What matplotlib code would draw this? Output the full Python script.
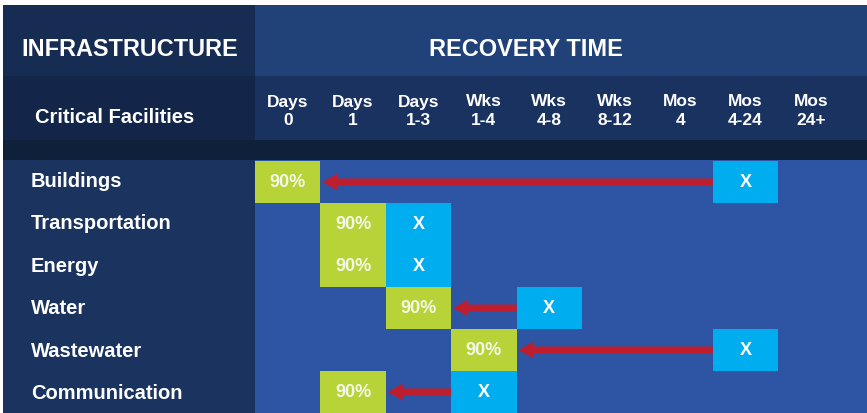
import matplotlib
matplotlib.use("Agg")
import matplotlib.pyplot as plt
from matplotlib.patches import Rectangle
from matplotlib import transforms

# ---------------- data ----------------
categories = ["Buildings", "Transportation", "Energy", "Water", "Wastewater", "Communication"]
time_units = ["Days", "Days", "Days", "Wks", "Wks", "Wks", "Mos", "Mos", "Mos"]
time_ranges = ["0", "1", "1-3", "1-4", "4-8", "8-12", "4", "4-24", "24+"]
target_col = [0, 1, 1, 2, 3, 1]    # column of the 90% recovery target
current_col = [7, 2, 2, 4, 7, 3]   # column of the current expected recovery (X)
target_label = "90%"
current_label = "X"

# ---------------- style ----------------
W, H = 867, 413
FONT = "Liberation Sans"
C_H1_LEFT = "#162c52"
C_H1_RIGHT = "#214278"
C_H2_LEFT = "#13264a"
C_H2_RIGHT = "#1a3260"
C_SEP = "#0f203b"
C_BODY_LEFT = "#1a335f"
C_GRID = "#2e55a4"
C_GREEN = "#b8d337"
C_CYAN = "#00aeef"
C_RED = "#be1e2d"
C_TEXT = "#ffffff"

fig = plt.figure(figsize=(W / 100, H / 100), dpi=100)
fig.patch.set_facecolor("white")


def fx(px):
    return px / W


def fy(py):
    return 1 - py / H


def fig_rect(x0, y0, x1, y1, color):
    r = Rectangle((fx(x0), fy(y1)), fx(x1) - fx(x0), fy(y0) - fy(y1),
                  transform=fig.transFigure, facecolor=color, edgecolor="none",
                  zorder=-5)
    fig.add_artist(r)


# background panels
LEFT, SPLIT = 3, 255
fig_rect(LEFT, 5, SPLIT, 76, C_H1_LEFT)
fig_rect(SPLIT, 5, W, 76, C_H1_RIGHT)
fig_rect(LEFT, 76, SPLIT, 140, C_H2_LEFT)
fig_rect(SPLIT, 76, W, 140, C_H2_RIGHT)
fig_rect(LEFT, 140, W, 160, C_SEP)
fig_rect(LEFT, 160, SPLIT, H, C_BODY_LEFT)
fig_rect(SPLIT, 160, W, H, C_GRID)

# grid axes
COLW = 65.4
TOP = 161
ax = fig.add_axes([fx(SPLIT), 0, fx(W) - fx(SPLIT), fy(TOP)])
ax.set_zorder(2)
ax.patch.set_alpha(0)
ax.set_xlim(0, (W - SPLIT) / COLW)
ax.set_ylim(len(categories), 0)
ax.axis("off")

rowh_px = (H - TOP) / len(categories)

for i, cat in enumerate(categories):
    t, c = target_col[i], current_col[i]
    ax.add_patch(Rectangle((t, i), 1, 1, facecolor=C_GREEN, edgecolor="none"))
    ax.add_patch(Rectangle((c, i), 1, 1, facecolor=C_CYAN, edgecolor="none"))
    ybase = i + 0.5 + 5 / rowh_px
    ax.text(t + 0.5, ybase, target_label, ha="center", va="baseline",
            color="#f4f7e8", fontsize=13, fontweight="bold", family=FONT)
    ax.text(c + 0.5, ybase, current_label, ha="center", va="baseline",
            color=C_TEXT, fontsize=13, fontweight="bold", family=FONT)
    if c - t > 1:
        start = c
        end = t + 1 + 2 / COLW
        ax.arrow(start, i + 0.5, end - start, 0,
                 width=7 / rowh_px, head_width=17 / rowh_px,
                 head_length=15 / COLW, length_includes_head=True,
                 facecolor=C_RED, edgecolor="none", zorder=3)

# column labels
col_tr = transforms.blended_transform_factory(ax.transData, fig.transFigure)
for j, (u, r) in enumerate(zip(time_units, time_ranges)):
    ax.text(j + 0.5, fy(106.5), u, transform=col_tr, ha="center", va="baseline",
            color=C_TEXT, fontsize=12.5, fontweight="bold", family=FONT, clip_on=False)
    ax.text(j + 0.5, fy(125), r, transform=col_tr, ha="center", va="baseline",
            color=C_TEXT, fontsize=12.5, fontweight="bold", family=FONT, clip_on=False)

# row labels
row_tr = transforms.blended_transform_factory(fig.transFigure, ax.transData)
for i, cat in enumerate(categories):
    ax.text(fx(31), i + 0.5 + 4.5 / rowh_px + i * 0.012, cat, transform=row_tr,
            ha="left", va="baseline", color=C_TEXT, fontsize=14.5,
            fontweight="bold", family=FONT, clip_on=False)

# headers
fig.text(fx(129.5), fy(56), "INFRASTRUCTURE", ha="center", va="baseline",
         color=C_TEXT, fontsize=16.9, fontweight="bold", family=FONT, zorder=5)
fig.text(fx(525.5), fy(56), "RECOVERY TIME", ha="center", va="baseline",
         color=C_TEXT, fontsize=16.9, fontweight="bold", family=FONT, zorder=5)
fig.text(fx(35), fy(123.3), "Critical Facilities", ha="left", va="baseline",
         color=C_TEXT, fontsize=14.5, fontweight="bold", family=FONT, zorder=5)

fig.savefig("out.png", dpi=100, facecolor=fig.get_facecolor())
